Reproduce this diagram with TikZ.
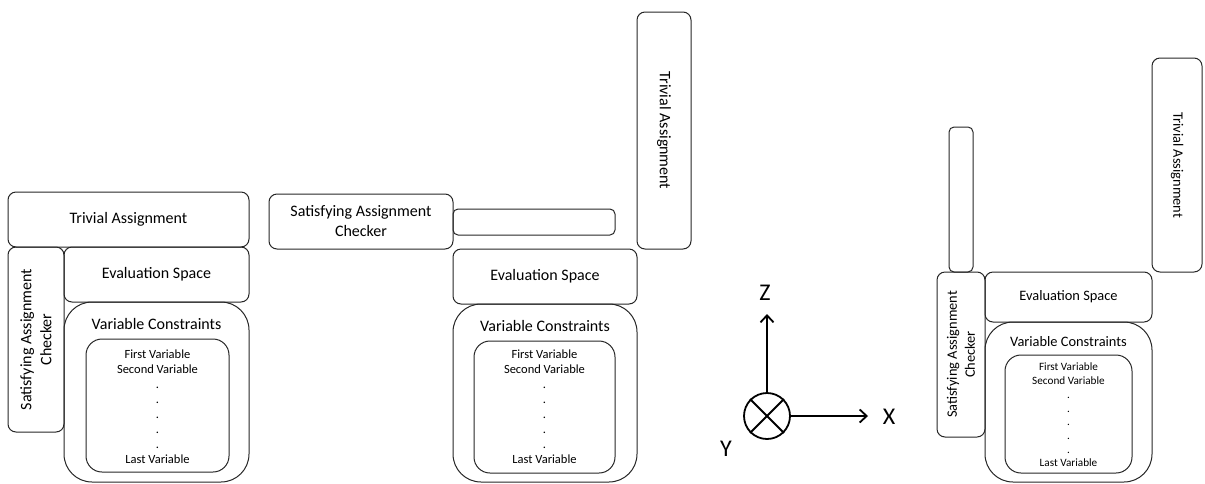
\documentclass[tikz,border=0pt]{standalone}
\usepackage{fontspec}
\setmainfont{Carlito}
\usetikzlibrary{arrows.meta}

\tikzset{
  blk/.style={draw=black!85, line width=1pt, rounded corners=8pt, inner sep=0pt,
              align=center, font=\fontsize{16}{20}\selectfont},
  blks/.style={blk, font=\fontsize{14.4}{18}\selectfont},
  outerbox/.style={draw=black!85, line width=1pt, rounded corners=28pt, inner sep=0pt},
  innerbox/.style={draw=black!85, line width=1pt, rounded corners=16pt, inner sep=0pt},
  thinbox/.style={draw=black!85, line width=1pt, rounded corners=5pt, inner sep=0pt},
  title/.style={font=\fontsize{16}{20}\selectfont, inner sep=0pt},
  titles/.style={font=\fontsize{14.4}{18}\selectfont, inner sep=0pt},
  varlist/.style={align=center, inner sep=0pt, font=\fontsize{12.5}{15}\selectfont},
  varlists/.style={align=center, inner sep=0pt, font=\fontsize{11.2}{13.7}\selectfont},
  axis/.style={line width=1.8pt, -{Straight Barb[length=7pt,width=13pt,line width=1.8pt]}},
  axlabel/.style={font=\fontsize{24}{28}\selectfont, inner sep=0pt},
}

\newcommand{\varcol}{First Variable\\Second Variable\\.\\.\\.\\.\\.\\Last Variable}

\begin{document}
\begin{tikzpicture}[x=1pt,y=-1pt]
\useasboundingbox (0,0) rectangle (1205,483);

% ---------- first arrangement ----------
\node[blk, minimum width=241pt, minimum height=55pt] (ta1) at (128.5,219.5) {Trivial Assignment};
\node[blk, minimum width=185pt, minimum height=56pt, rotate=90] (sac1) at (36,339.5)
  {Satisfying Assignment\\Checker};
\node[blk, minimum width=185pt, minimum height=55pt] (es1) at (156.5,274.5) {Evaluation Space};
\node[outerbox, minimum width=185pt, minimum height=180pt] (vc1) at (156.5,392) {};
\node[title] (vct1) at (156.5,324) {Variable Constraints};
\node[innerbox, minimum width=143pt, minimum height=133pt] (in1) at (157.5,405.5) {};
\node[varlist] (vl1) at (157.5,407) {\varcol};

% ---------- second arrangement ----------
\node[blk, minimum width=184pt, minimum height=55pt] (sac2) at (361,221.5)
  {Satisfying Assignment\\Checker};
\node[thinbox, minimum width=162pt, minimum height=26pt] (thin2) at (534,222) {};
\node[blk, minimum width=237pt, minimum height=54pt, rotate=-90] (ta2) at (664,130.5) {Trivial Assignment};
\node[blk, minimum width=184pt, minimum height=55pt] (es2) at (545,276.5) {Evaluation Space};
\node[outerbox, minimum width=184pt, minimum height=178pt] (vc2) at (545,393) {};
\node[title] (vct2) at (545,326) {Variable Constraints};
\node[innerbox, minimum width=141pt, minimum height=132pt] (in2) at (544.5,407) {};
\node[varlist] (vl2) at (544.5,407) {\varcol};

% ---------- coordinate axes ----------
\node[circle, draw, line width=1.8pt, minimum size=46pt, inner sep=0pt] (yax) at (767,416) {};
\draw[line width=1.8pt] (yax.north west) -- (yax.south east);
\draw[line width=1.8pt] (yax.north east) -- (yax.south west);
\coordinate (ztip) at (767,314);
\coordinate (xtip) at (868,416);
\draw[axis] (yax.north) -- (ztip);
\draw[axis] (yax.east) -- (xtip);
\node[axlabel] (zl) at (765,293) {Z};
\node[axlabel] (xl) at (889,417) {X};
\node[axlabel] (yl) at (726,449) {Y};

% ---------- third arrangement ----------
\node[thinbox, minimum width=24pt, minimum height=145pt] (thin3) at (961,199.5) {};
\node[blks, minimum width=165pt, minimum height=48pt, rotate=90] (sac3) at (961,354.5)
  {Satisfying Assignment\\Checker};
\node[blks, minimum width=167pt, minimum height=50pt] (es3) at (1068.5,297) {Evaluation Space};
\node[blks, minimum width=214pt, minimum height=50pt, rotate=-90] (ta3) at (1177,165) {Trivial Assignment};
\node[outerbox, minimum width=167pt, minimum height=160pt] (vc3) at (1068.5,402) {};
\node[titles] (vct3) at (1068.5,342) {Variable Constraints};
\node[innerbox, minimum width=127pt, minimum height=118pt] (in3) at (1068.5,414) {};
\node[varlists] (vl3) at (1068.5,415) {\varcol};
\end{tikzpicture}
\end{document}
